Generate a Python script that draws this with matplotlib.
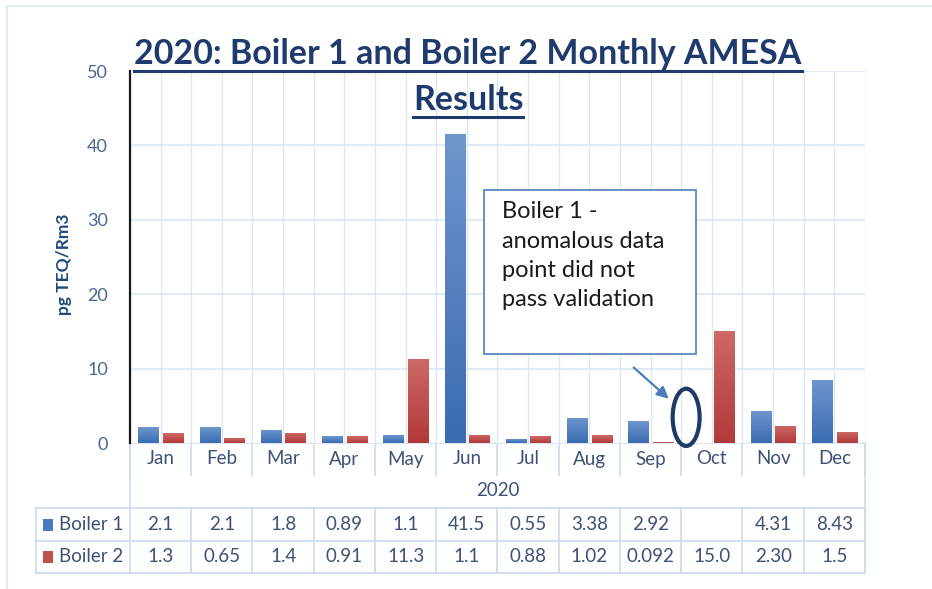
import numpy as np
import matplotlib
matplotlib.use("Agg")
import matplotlib.pyplot as plt
from matplotlib.patches import Rectangle, Ellipse
from matplotlib.lines import Line2D
import matplotlib.transforms as mtransforms
from matplotlib.colors import LinearSegmentedColormap

# ---------------- data ----------------
months = ["Jan", "Feb", "Mar", "Apr", "May", "Jun", "Jul", "Aug", "Sep", "Oct", "Nov", "Dec"]
year_label = "2020"
series_names = ["Boiler 1", "Boiler 2"]
boiler1 = [2.1, 2.1, 1.8, 0.89, 1.1, 41.5, 0.55, 3.38, 2.92, np.nan, 4.31, 8.43]
boiler2 = [1.3, 0.65, 1.4, 0.91, 11.3, 1.1, 0.88, 1.02, 0.092, 15.0, 2.30, 1.5]
boiler1_text = ["2.1", "2.1", "1.8", "0.89", "1.1", "41.5", "0.55", "3.38", "2.92", "", "4.31", "8.43"]
boiler2_text = ["1.3", "0.65", "1.4", "0.91", "11.3", "1.1", "0.88", "1.02", "0.092", "15.0", "2.30", "1.5"]
yticks = [0, 10, 20, 30, 40, 50]
title_line1 = "2020: Boiler 1 and Boiler 2 Monthly AMESA"
title_line2 = "Results"
ylabel = "pg TEQ/Rm3"
note = "Boiler 1 -\nanomalous data\npoint did not\npass validation"

plt.rcParams['font.family'] = ['Lato', 'DejaVu Sans']

W, H = 932, 589
fig = plt.figure(figsize=(W / 100, H / 100), dpi=100)

def fx(p):
    return p / W

def fy(p):
    return 1 - p / H

ax_left, ax_right, ax_top, ax_bot = 130, 865, 71, 443
ax = fig.add_axes([fx(ax_left), fy(ax_bot), (ax_right - ax_left) / W, (ax_bot - ax_top) / H])

grid_c = "#DCE6F2"
line_c = "#C9DAEE"
txt_c = "#3F5075"
blue_top, blue_bot = "#6E96CE", "#3A6CB2"
red_top, red_bot = "#CD6966", "#B2393A"

n = len(months)
x = np.arange(n)
bw = 0.33
off = 0.2

bars1 = ax.bar(x - off, boiler1, bw, color=blue_bot, edgecolor="none", zorder=3)
bars2 = ax.bar(x + off, boiler2, bw, color=red_bot, edgecolor="none", zorder=3)

grad = np.linspace(1, 0, 100).reshape(-1, 1)
for bars, (ct, cb) in [(bars1, (blue_top, blue_bot)), (bars2, (red_top, red_bot))]:
    cmap = LinearSegmentedColormap.from_list("g", [cb, ct])
    for b in bars:
        h = b.get_height()
        if not np.isfinite(h) or h <= 0:
            continue
        x0 = b.get_x()
        im = ax.imshow(grad, extent=[x0, x0 + b.get_width(), 0, h], cmap=cmap,
                       aspect="auto", origin="upper", zorder=4, interpolation="bicubic")
        im.set_clip_path(b)

ax.set_xlim(-0.5, n - 0.5)
ax.set_ylim(0, 50)

# grid
for v in yticks[1:]:
    ax.axhline(v, color=grid_c, lw=1.2, zorder=1)
for i in range(n):
    ax.axvline(i, color=grid_c, lw=1.0, zorder=1)
for i in range(n + 1):
    ax.axvline(i - 0.5, color=grid_c, lw=1.0, zorder=1)

for s in ["top", "right"]:
    ax.spines[s].set_visible(False)
ax.spines["bottom"].set_color(grid_c)
ax.spines["left"].set_color("#1A1A1A")
ax.spines["left"].set_linewidth(1.6)
ax.spines["left"].set_zorder(6)

ax.set_yticks(yticks)
ax.set_yticklabels([str(t) for t in yticks], fontsize=13, color="#4A6594")
ax.tick_params(axis="y", length=0, pad=16)
ax.set_xticks([])

fig.text(fx(64), fy(264), ylabel, rotation=90, ha="center", va="center",
         fontsize=12.5, fontweight="bold", color="#1F497D")

# ---------------- table below ----------------
tr = mtransforms.blended_transform_factory(ax.transData, fig.transFigure)
def dx(p):
    return (p - ax_left) / ((ax_right - ax_left) / n) - 0.5

row_month, row_year, row1_top, row2_top, row_bot = 443, 476, 508, 541, 573
tbl_left = 36
tfs = 13.5

for i in range(n + 1):
    ax.add_line(Line2D([i - 0.5, i - 0.5], [fy(445), fy(475)], transform=tr, color=line_c,
                       lw=1.2, clip_on=False))
for xv in [-0.5, n - 0.5]:
    ax.add_line(Line2D([xv, xv], [fy(row_month), fy(row_bot)], transform=tr, color=line_c,
                       lw=1.2, clip_on=False))
for yv in [row1_top, row2_top, row_bot]:
    ax.add_line(Line2D([dx(tbl_left), n - 0.5], [fy(yv), fy(yv)], transform=tr, color=line_c,
                       lw=1.2, clip_on=False))
ax.add_line(Line2D([dx(tbl_left), dx(tbl_left)], [fy(row1_top), fy(row_bot)], transform=tr,
                   color=line_c, lw=1.2, clip_on=False))
for i in range(n):
    ax.add_line(Line2D([i + 0.5, i + 0.5], [fy(row1_top), fy(row_bot)], transform=tr,
                       color=line_c, lw=1.2, clip_on=False))

for i, m in enumerate(months):
    ax.text(i, fy(459), m, transform=tr, ha="center", va="center", fontsize=tfs, color=txt_c)
ax.text((n - 1) / 2, fy(491), year_label, transform=tr, ha="center", va="center",
        fontsize=tfs, color=txt_c)

for rowy, vals in [((row1_top + row2_top) / 2, boiler1_text), ((row2_top + row_bot) / 2, boiler2_text)]:
    for i, t in enumerate(vals):
        ax.text(i, fy(rowy), t, transform=tr, ha="center", va="center", fontsize=tfs, color=txt_c)

for rowy, name, col in [((row1_top + row2_top) / 2, series_names[0], "#4A7BBE"),
                        ((row2_top + row_bot) / 2, series_names[1], "#C0504D")]:
    fig.patches.append(Rectangle((fx(43), fy(rowy + 6)), 10 / W, 12 / H, transform=fig.transFigure,
                                 facecolor=col, edgecolor="none"))
    fig.text(fx(59), fy(rowy), name, ha="left", va="center", fontsize=tfs, color=txt_c)

# ---------------- annotation ----------------
fig.patches.append(Rectangle((fx(484), fy(354)), (696 - 484) / W, (354 - 190) / H,
                             transform=fig.transFigure, facecolor="white", edgecolor="#5B87C2",
                             lw=1.3, zorder=5))
fig.text(fx(502), fy(201), note, ha="left", va="top", fontsize=17, color="#1A1A1A",
         linespacing=1.5, zorder=6)

ax.add_patch(Ellipse((8.58, 3.45), 0.44, 7.7, facecolor="none", edgecolor="#1F3A66",
                     lw=3, zorder=7, clip_on=False))
ax.annotate("", xy=(8.33, 5.7), xytext=(7.69, 10.4),
            arrowprops=dict(arrowstyle="-|>,head_length=0.7,head_width=0.35",
                            color="#4A7EBB", lw=1.6), zorder=7)

# ---------------- title ----------------
title_c = "#1F3B6E"
t1 = fig.text(fx(468), fy(54), title_line1, ha="center", va="center", fontsize=24.5,
              fontweight="bold", color=title_c)
t2 = fig.text(fx(468), fy(100), title_line2, ha="center", va="center", fontsize=24.5,
              fontweight="bold", color=title_c)
fig.canvas.draw()
r = fig.canvas.get_renderer()
for t in (t1, t2):
    bb = t.get_window_extent(r)
    yl = (bb.y0 - 1) / fig.bbox.height
    fig.add_artist(Line2D([bb.x0 / fig.bbox.width, bb.x1 / fig.bbox.width], [yl, yl],
                          transform=fig.transFigure, color=title_c, lw=2.2))

# outer frame
fig.add_artist(Line2D([fx(7), 1], [fy(6), fy(6)], transform=fig.transFigure, color="#E3ECF6", lw=1.5))
fig.add_artist(Line2D([fx(7), fx(7)], [fy(6), 0], transform=fig.transFigure, color="#E3ECF6", lw=1.5))

fig.savefig("out.png", dpi=100)
